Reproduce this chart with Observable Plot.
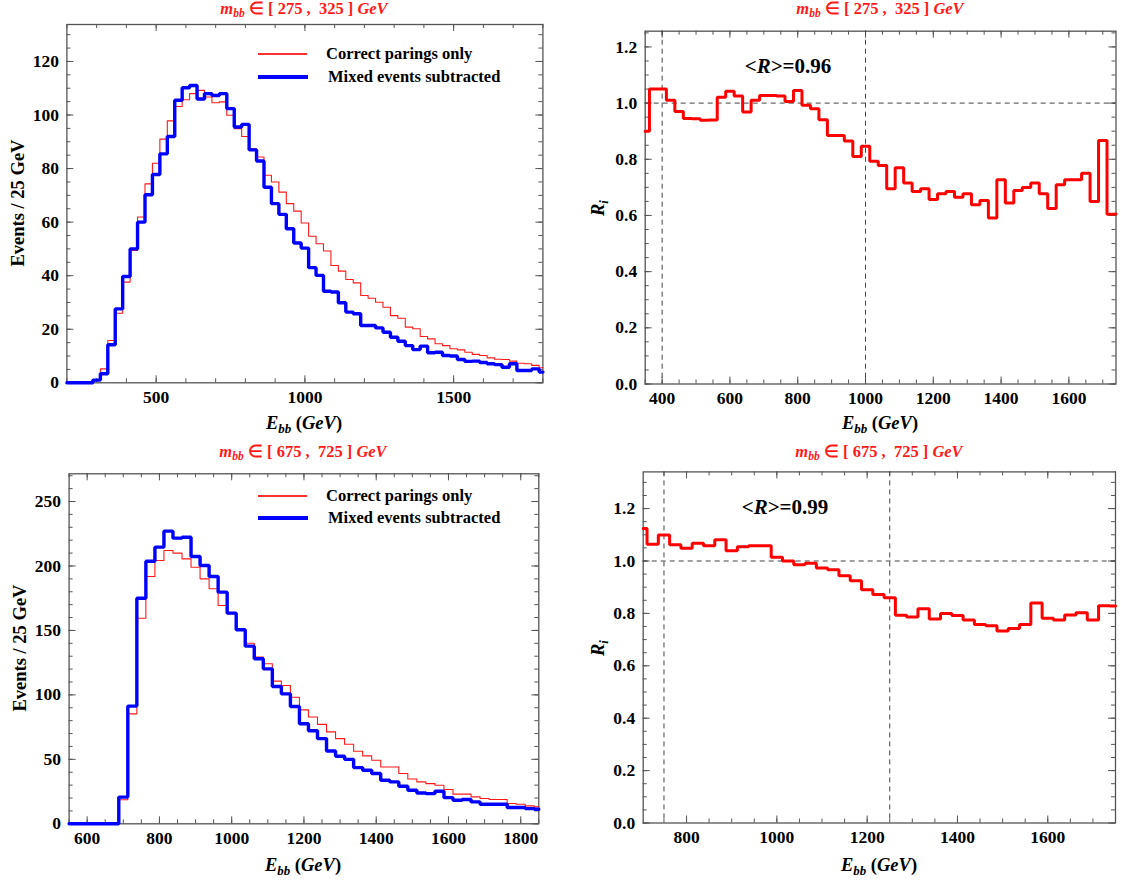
<!DOCTYPE html>
<html>
<head>
<meta charset="utf-8">
<script src="https://cdn.jsdelivr.net/npm/d3@7"></script>
<script src="https://cdn.jsdelivr.net/npm/@observablehq/plot@0.6"></script>
<style>
  html,body{margin:0;padding:0;background:#fff;}
  #root{position:relative;width:1121px;height:883px;overflow:hidden;font-family:"Liberation Serif","Times New Roman",serif;color:#000;}
  .pnl{position:absolute;}
  .pnl svg{display:block;}
  .ov{position:absolute;white-space:nowrap;font-weight:bold;line-height:1;}
  .ttl{color:#ff1a1a;font-size:16.5px;transform:translate(-50%,-50%);}
  .xl{font-size:18.5px;transform:translate(-50%,-50%);}
  .yl{font-size:18.5px;transform:translate(-50%,-50%) rotate(-90deg);}
  .leg{font-size:16.5px;transform:translateY(-50%);}
  .ann{font-size:21px;transform:translate(-50%,-50%);}
  .ln{position:absolute;}
  sub{font-size:70%;vertical-align:-0.3em;line-height:0;}
</style>
</head>
<body>
<div id="root"></div>
<script>
// ---------------- data ----------------
const BIN = 25; // GeV per bin

// Top row: m_bb in [275, 325] GeV
const centersTop = [200,225,250,275,300,325,350,375,400,425,450,475,500,525,550,575,600,625,650,675,700,725,750,775,800,825,850,875,900,925,950,975,1000,1025,1050,1075,1100,1125,1150,1175,1200,1225,1250,1275,1300,1325,1350,1375,1400,1425,1450,1475,1500,1525,1550,1575,1600,1625,1650,1675,1700,1725,1750,1775,1800];
const correctTop = [0,0,0,0,1,5.2,15.8,26,37.6,49.4,61.9,74.3,82,91,97.8,103.2,105.7,108,109.2,106.7,104.6,104.9,99.9,94.9,92,87.4,84.3,77.5,75,71.2,66.9,64.1,59.7,54.7,51.9,49.2,43.8,41.7,38.6,37.3,32.6,31.6,30.1,28.2,25.1,24.1,20.8,20.2,17.3,16.4,14.6,13.9,12.7,12.3,11.4,10.6,10.2,9.3,8.8,8.7,8.1,7.3,7.1,6.5,5.6];
const mixedTop = [0,0,0,0,1,3.4,14.2,27.6,39.7,50,60,70.2,77.8,85.5,92,105.5,110.2,111,106,108,107.3,108,102.4,95.5,96.5,87,82.8,73,66.9,62.9,57.5,52.2,50.3,43,40.1,34.2,33.9,29.9,26.4,25.8,21.4,21.4,20.5,18.9,17,15.5,13.9,12.4,13.7,11.2,11.4,10.2,10,8.7,8,8.1,7.6,7.1,6.8,5.8,7.1,4.6,4.6,5.2,4];

const ratioCentersTop = [350,375,400,425,450,475,500,525,550,575,600,625,650,675,700,725,750,775,800,825,850,875,900,925,950,975,1000,1025,1050,1075,1100,1125,1150,1175,1200,1225,1250,1275,1300,1325,1350,1375,1400,1425,1450,1475,1500,1525,1550,1575,1600,1625,1650,1675,1700,1725,1750];
const ratioTop = [0.90,1.05,1.05,1.01,0.97,0.945,0.944,0.939,0.94,1.021,1.042,1.025,0.968,1.01,1.027,1.027,1.025,1.006,1.045,0.992,0.98,0.941,0.885,0.885,0.865,0.81,0.846,0.793,0.778,0.695,0.77,0.716,0.685,0.695,0.657,0.677,0.685,0.665,0.677,0.638,0.653,0.591,0.727,0.644,0.689,0.70,0.716,0.677,0.625,0.709,0.727,0.727,0.75,0.65,0.867,0.604,0.605];
const refXTop = [400, 1000];
const meanRTop = "0.96";

// Bottom row: m_bb in [675, 725] GeV
const centersBot = [550,575,600,625,650,675,700,725,750,775,800,825,850,875,900,925,950,975,1000,1025,1050,1075,1100,1125,1150,1175,1200,1225,1250,1275,1300,1325,1350,1375,1400,1425,1450,1475,1500,1525,1550,1575,1600,1625,1650,1675,1700,1725,1750,1775,1800,1825,1850];
const correctBot = [0,0,0,0,0,0,18.6,85.3,159.5,191.8,204.2,212,210,205.5,199,190,182.3,169.3,162.9,150.5,140.1,129.3,124.1,110.7,107.3,98.2,88.4,82.8,77.1,71.3,66.1,61.7,56.3,52.7,49.3,44.1,44.1,39,34.8,32.5,31.2,29.9,26.6,23,23,20.9,19.6,18.8,18.8,15.7,15.2,13.9,13.1];
const mixedBot = [0,0,0,0,0,0,20.7,91.3,175,203.7,214.6,227,221.6,222.3,207.3,200.4,191.8,179.7,163.4,150.5,137.8,128,120.2,106.5,100.8,91,77.6,72.2,66.1,56.5,52.4,50,43.6,41.5,39,33.8,32.5,29.1,26,23.9,23.4,25.2,20.3,18.3,18.8,17,15.2,15.2,15.2,12.6,12.6,11.8,11.3];

const ratioCentersBot = [700,725,750,775,800,825,850,875,900,925,950,975,1000,1025,1050,1075,1100,1125,1150,1175,1200,1225,1250,1275,1300,1325,1350,1375,1400,1425,1450,1475,1500,1525,1550,1575,1600,1625,1650,1675,1700,1725,1750];
const ratioBot = [1.124,1.064,1.099,1.062,1.049,1.068,1.058,1.081,1.039,1.054,1.058,1.058,1.014,1.0,0.986,0.991,0.973,0.967,0.944,0.925,0.89,0.872,0.86,0.793,0.786,0.818,0.779,0.80,0.792,0.775,0.758,0.753,0.733,0.742,0.758,0.84,0.781,0.775,0.794,0.802,0.775,0.829,0.828];
const refXBot = [750, 1250];
const meanRBot = "0.99";
const refY = [1];

// tick values
const ticksX1Major = [500,1000,1500];
const ticksX1Minor = [200,300,400,500,600,700,800,900,1000,1100,1200,1300,1400,1500,1600,1700,1800];
const ticksY1Major = [0,20,40,60,80,100,120];
const ticksY1Minor = [0,5,10,15,20,25,30,35,40,45,50,55,60,65,70,75,80,85,90,95,100,105,110,115,120,125,130];
const ticksX2Major = [400,600,800,1000,1200,1400,1600];
const ticksX2Minor = [350,400,450,500,550,600,650,700,750,800,850,900,950,1000,1050,1100,1150,1200,1250,1300,1350,1400,1450,1500,1550,1600,1650,1700];
const ticksRMajor = [0,0.2,0.4,0.6,0.8,1.0,1.2];
const ticksRMinor = [0,0.05,0.1,0.15,0.2,0.25,0.3,0.35,0.4,0.45,0.5,0.55,0.6,0.65,0.7,0.75,0.8,0.85,0.9,0.95,1.0,1.05,1.1,1.15,1.2,1.25,1.3];
const ticksX3Major = [600,800,1000,1200,1400,1600,1800];
const ticksX3Minor = [550,600,650,700,750,800,850,900,950,1000,1050,1100,1150,1200,1250,1300,1350,1400,1450,1500,1550,1600,1650,1700,1750,1800,1850];
const ticksY3Major = [0,50,100,150,200,250];
const ticksY3Minor = [0,10,20,30,40,50,60,70,80,90,100,110,120,130,140,150,160,170,180,190,200,210,220,230,240,250,260,270];
const ticksX4Major = [800,1000,1200,1400,1600];
const ticksX4Minor = [750,800,850,900,950,1000,1050,1100,1150,1200,1250,1300,1350,1400,1450,1500,1550,1600,1650,1700,1750];

// ---------------- helpers ----------------
const FONT = '"Liberation Serif","Times New Roman",serif';
const AX = "#555";
const RED = "#ff0000", BLUE = "#0000ff";
const fmtInt = d3.format("d");
const fmt1 = d3.format(".1f");

function steps(centers, values, dom) {
  const h = BIN / 2;
  const pts = centers.map((c, i) => ({x: c - h, y: values[i]}));
  pts.push({x: centers[centers.length - 1] + h, y: values[values.length - 1]});
  return pts.map(p => ({x: Math.max(dom[0], Math.min(dom[1], p.x)), y: p.y}));
}

function frameTicks(p) {
  const fw = p.width - p.mL - p.mR, fh = p.height - p.mT - p.mB;
  const inX = v => v >= p.xDom[0] - 1e-9 && v <= p.xDom[1] + 1e-9;
  const inY = v => v >= p.yDom[0] - 1e-9 && v <= p.yDom[1] + 1e-9;
  const xMaj = p.xMajor.filter(inX), xMin = p.xMinor.filter(inX);
  const yMaj = p.yMajor.filter(inY), yMin = p.yMinor.filter(inY);
  const st = {stroke: AX, strokeWidth: 1};
  const id = d => d;
  const MAJ = 7, MIN = 4;
  return [
    Plot.tickX(xMin, {x: id, insetTop: fh - MIN, ...st}),
    Plot.tickX(xMin, {x: id, insetBottom: fh - MIN, ...st}),
    Plot.tickX(xMaj, {x: id, insetTop: fh - MAJ, ...st}),
    Plot.tickX(xMaj, {x: id, insetBottom: fh - MAJ, ...st}),
    Plot.tickY(yMin, {y: id, insetRight: fw - MIN, ...st}),
    Plot.tickY(yMin, {y: id, insetLeft: fw - MIN, ...st}),
    Plot.tickY(yMaj, {y: id, insetRight: fw - MAJ, ...st}),
    Plot.tickY(yMaj, {y: id, insetLeft: fw - MAJ, ...st}),
    Plot.axisX(xMaj, {anchor: "bottom", tickSize: 0, tickPadding: 8, tickFormat: p.xFmt, label: null}),
    Plot.axisY(yMaj, {anchor: "left", tickSize: 0, tickPadding: 8, tickFormat: p.yFmt, label: null})
  ];
}

const root = document.getElementById("root");

function addPanel(p) {
  const svg = Plot.plot({
    width: p.width, height: p.height,
    marginLeft: p.mL, marginRight: p.mR, marginTop: p.mT, marginBottom: p.mB,
    x: {domain: p.xDom},
    y: {domain: p.yDom},
    style: {fontFamily: FONT, fontSize: "17.5px", fontWeight: "bold", background: "transparent", color: "#000", overflow: "visible"},
    marks: [
      Plot.frame({stroke: AX, strokeWidth: 1.3}),
      ...frameTicks(p),
      ...p.marks
    ]
  });
  const d = document.createElement("div");
  d.className = "pnl";
  d.style.left = p.left + "px";
  d.style.top = p.top + "px";
  d.appendChild(svg);
  root.appendChild(d);
}

function overlay(cls, html, x, y) {
  const d = document.createElement("div");
  d.className = "ov " + cls;
  d.innerHTML = html;
  d.style.left = x + "px";
  d.style.top = y + "px";
  root.appendChild(d);
}
function hline(x1, x2, y, w, color) {
  const d = document.createElement("div");
  d.className = "ln";
  d.style.left = x1 + "px";
  d.style.top = (y - w / 2) + "px";
  d.style.width = (x2 - x1) + "px";
  d.style.height = w + "px";
  d.style.background = color;
  root.appendChild(d);
}

// ---------------- panels ----------------
const dom1 = [200, 1800];
addPanel({
  left: 0, top: 0, width: 560, height: 440,
  mL: 66.4, mR: 17.6, mT: 24, mB: 57.7,
  xDom: dom1, yDom: [0, 133.8],
  xMajor: ticksX1Major, xMinor: ticksX1Minor, yMajor: ticksY1Major, yMinor: ticksY1Minor,
  xFmt: fmtInt, yFmt: fmtInt,
  marks: [
    Plot.line(steps(centersTop, correctTop, dom1), {x: "x", y: "y", curve: "step-after", stroke: RED, strokeWidth: 1.1, strokeOpacity: 0.9}),
    Plot.line(steps(centersTop, mixedTop, dom1), {x: "x", y: "y", curve: "step-after", stroke: BLUE, strokeWidth: 3.4, strokeLinejoin: "miter"})
  ]
});

const dom2 = [350, 1739];
addPanel({
  left: 560, top: 0, width: 561, height: 440,
  mL: 84.7, mR: 5.5, mT: 30.7, mB: 56.5,
  xDom: dom2, yDom: [0, 1.256],
  xMajor: ticksX2Major, xMinor: ticksX2Minor, yMajor: ticksRMajor, yMinor: ticksRMinor,
  xFmt: fmtInt, yFmt: fmt1,
  marks: [
    Plot.ruleX(refXTop, {stroke: "#444", strokeWidth: 1, strokeDasharray: "5,4"}),
    Plot.ruleY(refY, {stroke: "#444", strokeWidth: 1, strokeDasharray: "5,4"}),
    Plot.line(steps(ratioCentersTop, ratioTop, dom2), {x: "x", y: "y", curve: "step-after", stroke: RED, strokeWidth: 3, strokeLinejoin: "miter"})
  ]
});

const dom3 = [550, 1850];
addPanel({
  left: 0, top: 440, width: 560, height: 443,
  mL: 68.6, mR: 21.7, mT: 33.3, mB: 59.7,
  xDom: dom3, yDom: [0, 271.5],
  xMajor: ticksX3Major, xMinor: ticksX3Minor, yMajor: ticksY3Major, yMinor: ticksY3Minor,
  xFmt: fmtInt, yFmt: fmtInt,
  marks: [
    Plot.line(steps(centersBot, correctBot, dom3), {x: "x", y: "y", curve: "step-after", stroke: RED, strokeWidth: 1.1, strokeOpacity: 0.9}),
    Plot.line(steps(centersBot, mixedBot, dom3), {x: "x", y: "y", curve: "step-after", stroke: BLUE, strokeWidth: 3.4, strokeLinejoin: "miter"})
  ]
});

const dom4 = [704, 1750];
addPanel({
  left: 560, top: 440, width: 561, height: 443,
  mL: 82.7, mR: 6, mT: 31.4, mB: 60.5,
  xDom: dom4, yDom: [0, 1.34],
  xMajor: ticksX4Major, xMinor: ticksX4Minor, yMajor: ticksRMajor, yMinor: ticksRMinor,
  xFmt: fmtInt, yFmt: fmt1,
  marks: [
    Plot.ruleX(refXBot, {stroke: "#444", strokeWidth: 1, strokeDasharray: "5,4"}),
    Plot.ruleY(refY, {stroke: "#444", strokeWidth: 1, strokeDasharray: "5,4"}),
    Plot.line(steps(ratioCentersBot, ratioBot, dom4), {x: "x", y: "y", curve: "step-after", stroke: RED, strokeWidth: 3, strokeLinejoin: "miter"})
  ]
});

// ---------------- text overlays ----------------
const titleTop = '<i>m</i><sub><i>bb</i></sub> \u2208 [ 275 ,&nbsp;&nbsp;325 ] <i>GeV</i>';
const titleBot = '<i>m</i><sub><i>bb</i></sub> \u2208 [ 675 ,&nbsp;&nbsp;725 ] <i>GeV</i>';
overlay("ttl", titleTop, 304, 9);
overlay("ttl", titleTop, 880, 9);
overlay("ttl", titleBot, 303, 452);
overlay("ttl", titleBot, 879, 452);

const xLab = '<i>E</i><sub><i>bb</i></sub> (<i>GeV</i>)';
overlay("xl", xLab, 304, 423);
overlay("xl", xLab, 880, 423);
overlay("xl", xLab, 303, 865);
overlay("xl", xLab, 879, 865);

overlay("yl", "Events / 25 GeV", 18, 203);
overlay("yl", "Events / 25 GeV", 20, 648);
overlay("yl", "<i>R</i><sub><i>i</i></sub>", 598, 208);
overlay("yl", "<i>R</i><sub><i>i</i></sub>", 598, 648);

overlay("ann", "&lt;<i>R</i>&gt;=" + meanRTop, 788, 66);
overlay("ann", "&lt;<i>R</i>&gt;=" + meanRBot, 785, 507);

// legends
const legendLabels = ["Correct parings only", "Mixed events subtracted"];
[[54, 77], [496, 518]].forEach(([yr, yb]) => {
  hline(258, 307, yr, 1.2, "#ff3030");
  hline(258, 308, yb, 3.6, BLUE);
  overlay("leg", legendLabels[0], 326, yr);
  overlay("leg", legendLabels[1], 328, yb);
});
</script>
</body>
</html>
